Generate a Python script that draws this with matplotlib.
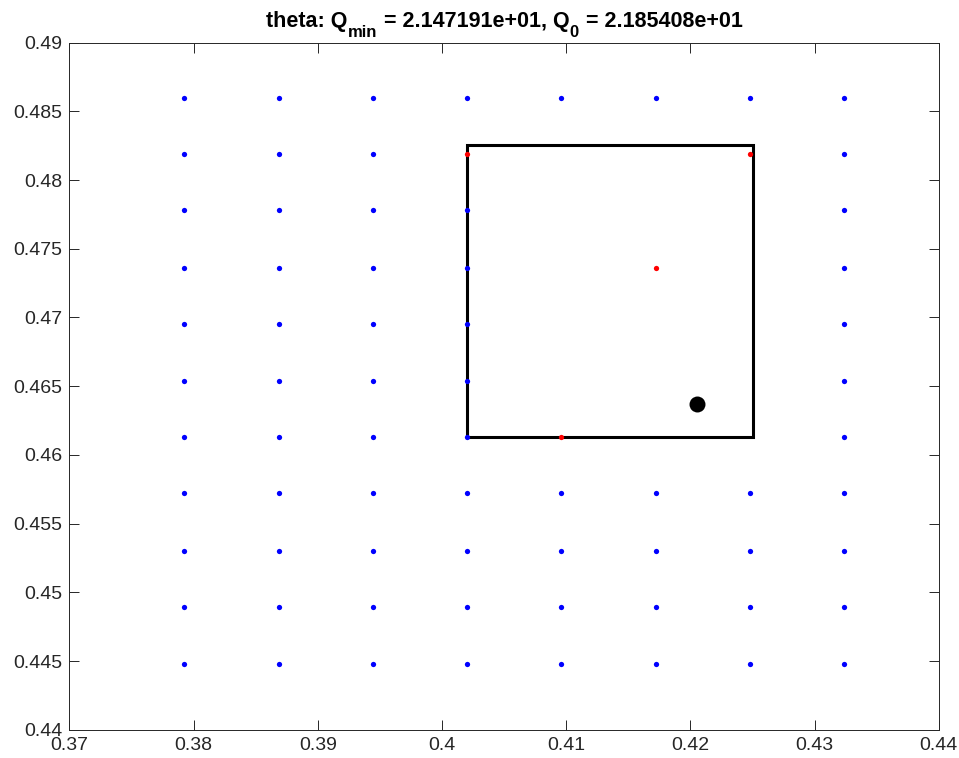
import numpy as np
import matplotlib
matplotlib.use('Agg')
import matplotlib.pyplot as plt
from matplotlib.patches import Rectangle

plt.rcParams['font.family'] = ['Liberation Sans', 'DejaVu Sans']

# grid of sample points
grid_x = [0.37925, 0.38684, 0.39443, 0.40202, 0.40961, 0.41720, 0.42479, 0.43238]
grid_y = [0.4860, 0.4819, 0.4778, 0.4736, 0.4695, 0.4654, 0.4613, 0.4572, 0.4530, 0.4489, 0.4448]

# trust region box
box_x = [0.40202, 0.42503]
box_y = [0.46128, 0.48255]

# points evaluated in the box (red)
red_x = [0.40202, 0.42479, 0.41720, 0.40961]
red_y = [0.4819, 0.4819, 0.4736, 0.4613]

# current best point
best_x = [0.42054]
best_y = [0.46370]

# title pieces: (text, is_subscript)
title_parts = [('theta: Q', False), ('min', True), (' = 2.147191e+01, Q', False),
               ('0', True), (' = 2.185408e+01', False)]

# blue points: grid outside the box (left edge of box kept)
bx, by = [], []
for xv in grid_x:
    for yv in grid_y:
        inside = (box_x[0] + 1e-4 < xv < box_x[1] + 1e-4) and (box_y[0] - 1e-4 < yv < box_y[1])
        on_red = any(abs(xv - a) < 1e-5 and abs(yv - b) < 1e-5 for a, b in zip(red_x, red_y))
        if not inside and not on_red:
            bx.append(xv)
            by.append(yv)

fig = plt.figure(figsize=(9.59, 7.58), dpi=100)
ax = fig.add_axes([0.0723, 0.0373, 0.9067, 0.9064])

ax.add_patch(Rectangle((box_x[0], box_y[0]), box_x[1] - box_x[0], box_y[1] - box_y[0],
                       fill=False, edgecolor='black', linewidth=2.2, zorder=2))
ax.plot(bx, by, 'o', color='blue', markersize=3.8, markeredgewidth=0, zorder=3)
ax.plot(red_x, red_y, 'o', color='red', markersize=3.8, markeredgewidth=0, zorder=3)
ax.plot(best_x, best_y, 'o', color='black', markersize=11.5, markeredgewidth=0, zorder=4)

ax.set_xlim(0.37, 0.44)
ax.set_ylim(0.44, 0.49)
ax.set_xticks(np.arange(0.37, 0.4401, 0.01))
ax.set_xticklabels(['0.37', '0.38', '0.39', '0.4', '0.41', '0.42', '0.43', '0.44'])
ax.set_yticks(np.arange(0.44, 0.4901, 0.005))
ax.set_yticklabels(['0.44', '0.445', '0.45', '0.455', '0.46', '0.465', '0.47',
                    '0.475', '0.48', '0.485', '0.49'])

for s in ax.spines.values():
    s.set_color('#262626')
    s.set_linewidth(0.7)
ax.tick_params(direction='in', length=7, width=0.7, color='#262626',
               labelsize=14, labelcolor='#262626', top=True, right=True, pad=5)

# title built from pieces so the subscripts look like MATLAB's
first = fig.text(0.3, 0.9644, title_parts[0][0], fontsize=15.5, fontweight='bold',
                 ha='left', va='baseline')
prev = first
for txt, sub in title_parts[1:]:
    prev = ax.annotate(txt, xy=(1, 0), xycoords=(prev, first),
                       xytext=(0.4, -6 if sub else 0), textcoords='offset points',
                       fontsize=12 if sub else 15.5, fontweight='bold',
                       ha='left', va='bottom', annotation_clip=False)

fig.canvas.draw()
r = fig.canvas.get_renderer()
left = first.get_window_extent(r).x0
right = prev.get_window_extent(r).x1
centre = ax.get_window_extent(r).x0 + ax.get_window_extent(r).width / 2
first.set_x(first.get_position()[0] + (centre - (left + right) / 2) / fig.bbox.width)

fig.savefig('out.png', dpi=100)
